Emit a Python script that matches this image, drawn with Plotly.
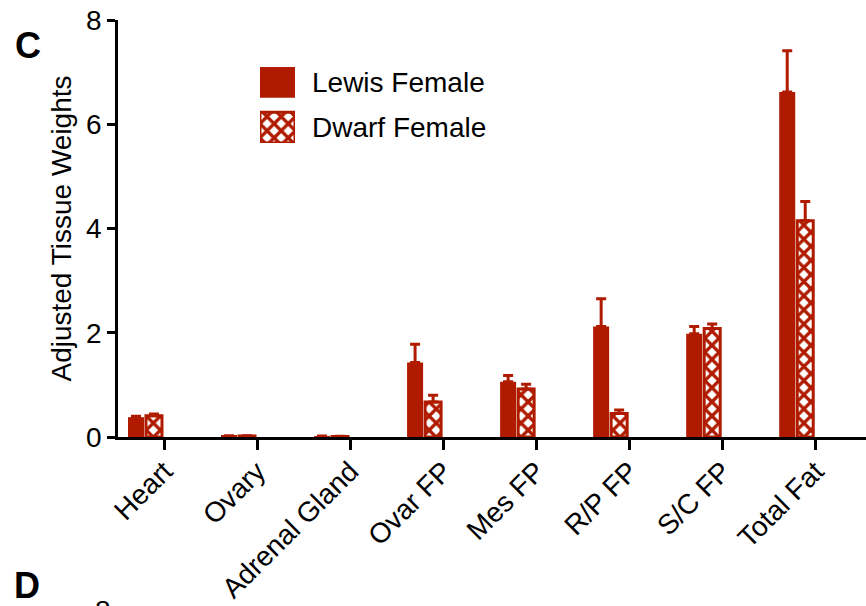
import plotly.graph_objects as go

# Tissue weights (adjusted), mean and upper SEM for each group
tissues = ["Heart", "Ovary", "Adrenal Gland", "Ovar FP", "Mes FP",
           "R/P FP", "S/C FP", "Total Fat"]
lewis_mean = [0.38, 0.02, 0.015, 1.43, 1.06, 2.12, 1.98, 6.62]
lewis_err = [0.02, 0.005, 0.005, 0.35, 0.12, 0.53, 0.14, 0.79]
dwarf_mean = [0.41, 0.02, 0.01, 0.67, 0.92, 0.45, 2.08, 4.15]
dwarf_err = [0.03, 0.005, 0.005, 0.13, 0.09, 0.07, 0.09, 0.37]
y_ticks = [0, 2, 4, 6, 8]
series_names = ["Lewis Female", "Dwarf Female"]

RED = "#B01B00"
FONT = "Liberation Sans, Arial, sans-serif"
positions = list(range(len(tissues)))

CHECK = dict(shape="x", fgcolor=RED, bgcolor="white", fgopacity=1,
             size=10, solidity=0.55, fillmode="overlay")

fig = go.Figure()

# Main grouped bars
fig.add_trace(go.Bar(
    x=positions, y=lewis_mean, name=series_names[0],
    marker=dict(color=RED, line=dict(color=RED, width=0)),
    error_y=dict(type="data", symmetric=False, array=lewis_err,
                 arrayminus=[0] * len(lewis_err),
                 color=RED, thickness=3, width=5),
    showlegend=False,
))
fig.add_trace(go.Bar(
    x=positions, y=dwarf_mean, name=series_names[1],
    marker=dict(color="white", line=dict(color=RED, width=3),
                pattern=CHECK),
    error_y=dict(type="data", symmetric=False, array=dwarf_err,
                 arrayminus=[0] * len(dwarf_err),
                 color=RED, thickness=3, width=5),
    showlegend=False,
))

# Legend swatches drawn as bars on a small inset axis
fig.add_trace(go.Bar(
    x=[1], y=[1], orientation="h", width=0.68,
    marker=dict(color=RED, line=dict(width=0)),
    xaxis="x2", yaxis="y2", showlegend=False, hoverinfo="skip",
))
fig.add_trace(go.Bar(
    x=[1], y=[0], orientation="h", width=0.68,
    marker=dict(color="white", line=dict(color=RED, width=3),
                pattern=CHECK),
    xaxis="x2", yaxis="y2", showlegend=False, hoverinfo="skip",
))

annotations = [
    dict(text=series_names[0], x=1, y=1, xref="x2", yref="y2",
         xanchor="left", yanchor="middle", xshift=15, showarrow=False,
         font=dict(family=FONT, size=28, color="black")),
    dict(text=series_names[1], x=1, y=0, xref="x2", yref="y2",
         xanchor="left", yanchor="middle", xshift=15, showarrow=False,
         font=dict(family=FONT, size=28, color="black")),
    # panel letters
    dict(text="<b>C</b>", x=-0.1203, y=0.940, xref="paper", yref="paper",
         xanchor="center", yanchor="middle", showarrow=False,
         font=dict(family=FONT, size=36, color="black")),
    dict(text="<b>D</b>", x=-0.1217, y=-0.356, xref="paper", yref="paper",
         xanchor="center", yanchor="middle", showarrow=False,
         font=dict(family=FONT, size=36, color="black")),
    # top tick label of the panel below
    dict(text="8", x=-0.0201, y=-0.375, xref="paper", yref="paper",
         xanchor="center", yanchor="top", showarrow=False,
         font=dict(family=FONT, size=28, color="black")),
]

fig.update_layout(
    width=866, height=606,
    margin=dict(l=118, r=0, t=20, b=169, autoexpand=False),
    paper_bgcolor="white", plot_bgcolor="white",
    barmode="group", bargap=0.613, bargroupgap=0.11,
    font=dict(family=FONT, size=28, color="black"),
    xaxis=dict(
        range=[-0.29, 7.75],
        automargin=False,
        tickmode="array",
        tickvals=[p + 0.208 for p in positions],
        ticktext=tissues,
        tickangle=-45,
        ticklabelstandoff=-6,
        ticks="outside", ticklen=10, tickwidth=2.5, tickcolor="black",
        showline=True, linecolor="black", linewidth=2.5,
        showgrid=False, zeroline=False,
        tickfont=dict(family=FONT, size=28, color="black"),
    ),
    yaxis=dict(
        range=[0, 8],
        automargin=False,
        tickmode="array", tickvals=y_ticks,
        ticks="outside", ticklen=8, tickwidth=2.5, tickcolor="black",
        showline=True, linecolor="black", linewidth=2.5,
        showgrid=False, zeroline=False,
        tickfont=dict(family=FONT, size=28, color="black"),
        title=dict(text="Adjusted Tissue Weights", standoff=7,
                   font=dict(family=FONT, size=28, color="black")),
    ),
    xaxis2=dict(domain=[0.1898, 0.2366], range=[0, 1], visible=False,
                anchor="y2", fixedrange=True),
    yaxis2=dict(domain=[0.705, 0.887], range=[-0.34, 1.34], visible=False,
                anchor="x2", fixedrange=True),
    annotations=annotations,
)

fig.write_html("out.html")
